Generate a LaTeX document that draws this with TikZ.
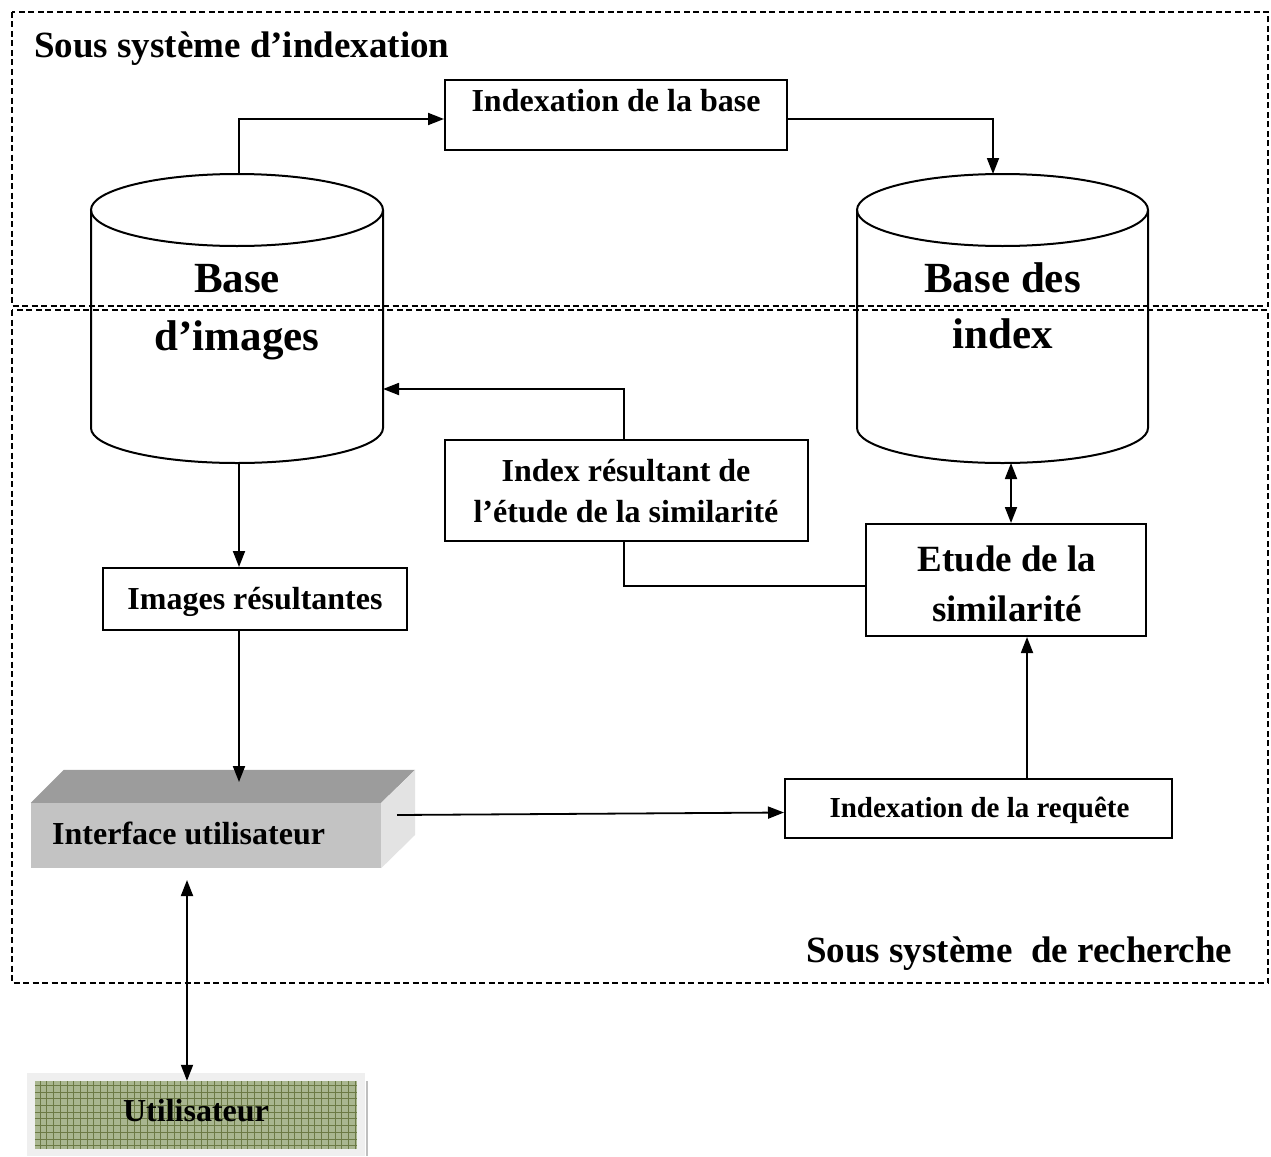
\documentclass[tikz,border=0pt]{standalone}
\usepackage{fontspec}
\setmainfont{Liberation Serif}
\usetikzlibrary{arrows.meta}
\definecolor{topgray}{HTML}{9C9C9C}
\definecolor{frontgray}{HTML}{C3C3C3}
\definecolor{sidegray}{HTML}{E3E3E3}
\definecolor{usergreen}{HTML}{A9B690}
\definecolor{gridgreen}{HTML}{6C7A45}
\definecolor{framegray}{HTML}{EFEFEF}
\begin{document}
\begin{tikzpicture}[x=1pt,y=1pt,
  box/.style={draw=black, line width=2pt, inner sep=0pt, rectangle},
  conn/.style={line width=1.8pt, -{Triangle[length=16pt,width=12pt]}},
  dconn/.style={line width=1.8pt, {Triangle[length=16pt,width=12pt]}-{Triangle[length=16pt,width=12pt]}},
  plainline/.style={line width=1.8pt},
  frame/.style={line width=1.8pt, dash pattern=on 6pt off 3.5pt},
  cyl/.style={line width=2pt},
  tXL/.style={inner sep=0pt, align=center, font=\fontsize{43}{58}\selectfont\bfseries},
  tXLb/.style={inner sep=0pt, align=center, font=\fontsize{43}{56}\selectfont\bfseries},
  tL/.style={inner sep=0pt, align=center, font=\fontsize{37}{50}\selectfont\bfseries},
  tM/.style={inner sep=0pt, align=center, font=\fontsize{32}{41}\selectfont\bfseries},
  tS/.style={inner sep=0pt, align=center, font=\fontsize{29}{35}\selectfont\bfseries}
]
\useasboundingbox (0,0) rectangle (1271,-1156);

% dashed frames
\draw[frame] (12,-12) rectangle (1268,-306);
\draw[frame] (12,-310) rectangle (1268,-983);

% titles
\node[tL, anchor=base west] (title1) at (34,-58) {Sous système d’indexation};
\node[tL, anchor=base west] (title2) at (806,-962) {Sous système\ \ de recherche};

% cylinders
\draw[cyl] (237,-210) ellipse [x radius=146, y radius=36];
\draw[cyl] (91,-210) -- (91,-428) arc[start angle=180, end angle=360, x radius=146, y radius=35] -- (383,-210);
\draw[cyl] (1002.5,-210) ellipse [x radius=145.5, y radius=36];
\draw[cyl] (857,-210) -- (857,-428) arc[start angle=180, end angle=360, x radius=145.5, y radius=35] -- (1148,-210);
\node[tXL] (baseimg) at (237,-309.4) {\strut Base\\\strut d’images};
\node[tXLb] (baseidx) at (1002.5,-308.8) {\strut Base des\\\strut index};
\coordinate (cylLtop) at (239,-174);
\coordinate (cylLside) at (383,-389);
\coordinate (cylLbot) at (239,-463);
\coordinate (cylRtop) at (993,-174);
\coordinate (cylRbot) at (1011,-463);

% boxes
\node[box, minimum width=342pt, minimum height=70pt] (idxbase) at (616,-115) {};
\node[tM, anchor=base] (tidxbase) at (616,-111) {Indexation de la base};

\node[box, minimum width=363pt, minimum height=101pt] (idxres) at (626.5,-490.5) {};
\node[tM] (tidxres) at (626,-493.3) {\strut Index résultant de\\\strut l’étude de la similarité};

\node[box, minimum width=280pt, minimum height=112pt] (etude) at (1006,-580) {};
\node[tL] (tetude) at (1007,-586) {\strut Etude de la\\\strut similarité};

\node[box, minimum width=304pt, minimum height=62pt] (imgres) at (255,-599) {};
\node[tM, anchor=base] (timgres) at (255,-609) {Images résultantes};

\node[box, minimum width=387pt, minimum height=59pt] (req) at (978.5,-808.5) {};
\node[tS, anchor=base] (treq) at (979.5,-817) {Indexation de la requête};

% interface 3D block
\node[fill=frontgray, minimum width=350pt, minimum height=65pt, inner sep=0pt] (iface) at (206,-835.5) {};
\fill[topgray] (iface.north west) -- ++(33,33) -- ([shift={(34,33)}]iface.north east) -- (iface.north east) -- cycle;
\fill[sidegray] (iface.north east) -- ++(34,33) -- ++(0,-65) -- (iface.south east) -- cycle;
\node[tM, anchor=base west] (tiface) at (52,-844) {Interface utilisateur};
\coordinate (ifacetop) at (239,-782);
\coordinate (ifaceout) at (397,-815);
\coordinate (ifacebot) at (187,-880);

% utilisateur
\fill[framegray] (27,-1073) rectangle (365,-1156);
\fill[black!25] (365.5,-1081) rectangle (367.5,-1156);
\node[fill=usergreen, minimum width=322pt, minimum height=68pt, inner sep=0pt] (user) at (196,-1115) {};
\begin{scope}
\clip (user.south west) rectangle (user.north east);
\draw[gridgreen, line width=0.9pt, step=6.7] (user.south west) grid (user.north east);
\end{scope}
\node[tM, anchor=base] (tuser) at (196,-1121) {Utilisateur};

% connectors
\draw[conn] (cylLtop) |- ([yshift=-4pt]idxbase.west);
\draw[conn] ([yshift=-4pt]idxbase.east) -| (cylRtop);
\draw[conn] ([xshift=-2.5pt]idxres.north) |- (cylLside);
\draw[plainline] ([xshift=-2.5pt]idxres.south) |- ([yshift=-6pt]etude.west);
\draw[dconn] (cylRbot) -- ([xshift=5pt]etude.north);
\draw[conn] ([xshift=48.5pt]req.north) -- ([xshift=21pt]etude.south);
\draw[conn] (cylLbot) -- ([xshift=-16pt]imgres.north);
\draw[conn] ([xshift=-16pt]imgres.south) -- (ifacetop);
\draw[conn] (ifaceout) -- ([yshift=-4pt]req.west);
\draw[dconn] (ifacebot) -- ([xshift=-9pt]user.north);
\end{tikzpicture}
\end{document}
